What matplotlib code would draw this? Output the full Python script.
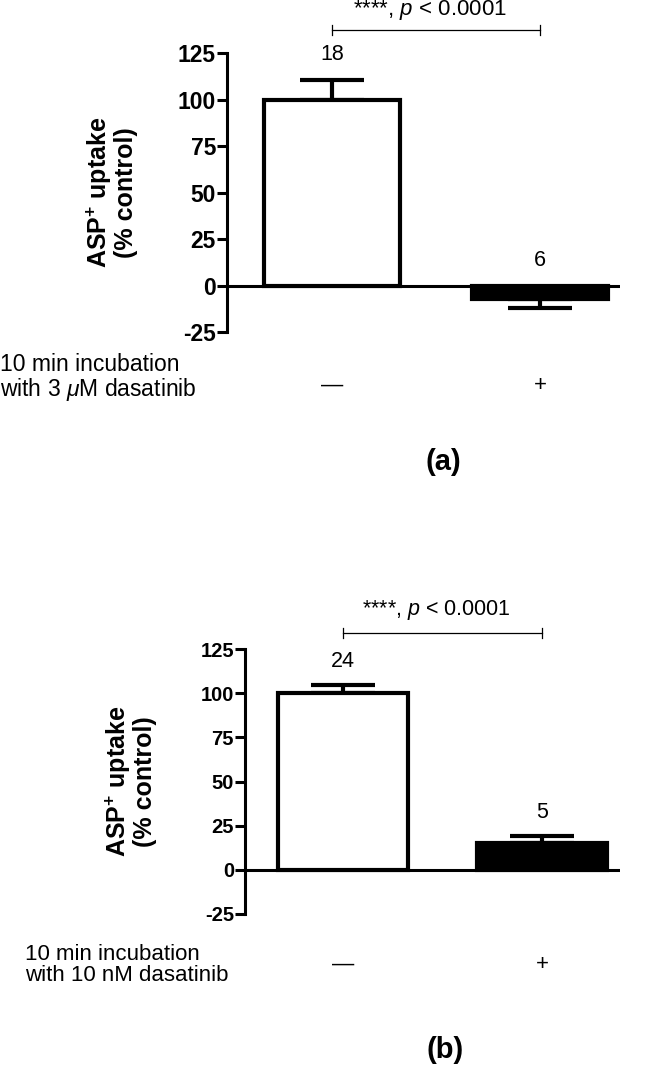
import matplotlib
matplotlib.use("Agg")
import matplotlib.pyplot as plt

plt.rcParams['font.family'] = ['Liberation Sans', 'DejaVu Sans']
plt.rcParams['mathtext.fontset'] = 'custom'
plt.rcParams['mathtext.rm'] = 'Liberation Sans'
plt.rcParams['mathtext.it'] = 'Liberation Sans:italic'
plt.rcParams['mathtext.bf'] = 'Liberation Sans:bold'

# data
treatment = ['—', '+']
mean_a = [100, -7]
sem_a = [10.5, 5]
n_a = [18, 6]
mean_b = [100, 15]
sem_b = [4.5, 4]
n_b = [24, 5]
yticks = [-25, 0, 25, 50, 75, 100, 125]
p_text = '****, $p$ < 0.0001'
ylabel = 'ASP$^{\\mathbf{+}}$ uptake\n(% control)'
row_a = '10 min incubation\nwith 3 $\\mathit{\\mu}$M dasatinib'
row_b = '10 min incubation\nwith 10 nM dasatinib'
fills = ['white', 'black']


def draw_panel(ax, means, errs, ns, xlim, bracket_y, text_y, ylab_x,
               tick_fs, p_fs):
    x = list(range(len(means)))
    ax.bar(x, means, width=0.65, color=fills, edgecolor='black',
           linewidth=3, zorder=2)
    lower = [e if m < 0 else 0 for m, e in zip(means, errs)]
    upper = [e if m >= 0 else 0 for m, e in zip(means, errs)]
    ax.errorbar(x, means, yerr=[lower, upper], fmt='none', ecolor='black',
                elinewidth=3, capsize=23, capthick=3, zorder=1)
    ax.axhline(0, color='black', lw=2.2, zorder=3)

    # n per group above each bar
    for xi, m, e, n in zip(x, means, errs, ns):
        top = m + e if m > 0 else 0
        ax.text(xi, top + 13.5, str(n), ha='center', va='center',
                fontsize=15.5)

    # significance bracket
    ax.plot([x[0], x[1]], [bracket_y, bracket_y], color='black', lw=0.9,
            clip_on=False)
    for xi in x:
        ax.plot([xi, xi], [bracket_y - 2.7, bracket_y + 2.7], color='black',
                lw=0.9, clip_on=False)
    ax.text((x[0] + x[1]) / 2 - 0.03, text_y, p_text, ha='center',
            va='center', fontsize=p_fs)

    # treatment signs under the bars
    for xi, t in zip(x, treatment):
        ax.text(xi, -0.19, t, ha='center', va='center', fontsize=16,
                transform=ax.get_xaxis_transform())

    ax.set_xlim(*xlim)
    ax.set_ylim(-25, 125)
    ax.set_yticks(yticks)
    ax.set_yticklabels([str(t) for t in yticks], fontweight='bold')
    ax.set_xticks([])
    ax.tick_params(axis='y', length=7, width=2.2, labelsize=tick_fs, pad=1)
    for s in ['top', 'right', 'bottom']:
        ax.spines[s].set_visible(False)
    ax.spines['left'].set_linewidth(2.2)
    ax.text(ylab_x, 0.5, ylabel, rotation=90, ha='center', va='center',
            fontsize=18, fontweight='bold', transform=ax.transAxes,
            multialignment='center', linespacing=1.0)


fig = plt.figure(figsize=(6.46, 10.68), dpi=100)

ax_a = fig.add_axes([0.3514, 0.6891, 0.6084, 0.2612])
draw_panel(ax_a, mean_a, sem_a, n_a, (-0.505, 1.385), 137.4, 148, -0.295,
           16.5, 16)
fig.text(0.0, 1 - 378 / 1068, row_a, ha='left', va='center', fontsize=16.5,
         linespacing=1.0)
fig.text(0.686, 1 - 462 / 1068, '(a)', ha='center', va='center',
         fontsize=21, fontweight='bold')

ax_b = fig.add_axes([0.3793, 0.1442, 0.5805, 0.2481])
draw_panel(ax_b, mean_b, sem_b, n_b, (-0.49, 1.39), 134, 147, -0.305,
           14.5, 15.5)
fig.text(25 / 646, 1 - 965 / 1068, row_b, ha='left', va='center',
         fontsize=16, linespacing=1.0)
fig.text(0.689, 1 - 1050 / 1068, '(b)', ha='center', va='center',
         fontsize=21, fontweight='bold')

fig.savefig('out.png', dpi=100)
